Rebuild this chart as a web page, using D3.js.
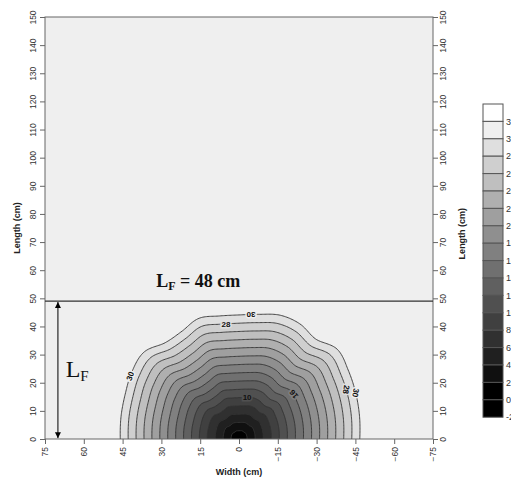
<!DOCTYPE html>
<html>
<head>
<meta charset="utf-8">
<script src="https://cdn.jsdelivr.net/npm/d3@7"></script>
<style>
  body { margin: 0; background: #fff; }
  svg { display: block; font-family: "Liberation Sans", Arial, sans-serif; }
</style>
</head>
<body>
<div id="chart"></div>
<script>
// contour levels (cm) and tick labels
const levels = [-2, 0, 2, 4, 6, 8, 10, 12, 14, 16, 18, 20, 22, 24, 26, 28, 30, 32];
const widthTicks = [75, 60, 45, 30, 15, 0, -15, -30, -45, -60, -75];
const lengthTicks = [0, 10, 20, 30, 40, 50, 60, 70, 80, 90, 100, 110, 120, 130, 140, 150];

// outer (30) contour: angle from right side (deg) -> radius (cm)
const edgeAngle = [0, 10, 20, 30, 40, 50, 60, 70, 80, 90, 100, 110, 120, 130, 140, 150, 160, 170, 180];
const edgeRadius = [46.7, 47.3, 48.0, 48.8, 49.6, 46.3, 47.2, 46.8, 45.0, 44.1, 44.4, 45.6, 44.2, 44.6, 48.0, 47.8, 46.8, 46.3, 45.9];

// contour labels: level, angle on the field, text rotation
const labelValue = [30, 28, 30, 10, 16, 28, 30];
const labelAngle = [84, 97, 152, 78, 37, 23, 20];
const labelRotate = [180, 0, -70, 0, -128, 100, 100];

const frontLength = 49; // LF line

const W = 511, H = 479;
const svg = d3.select("#chart").append("svg")
  .attr("width", W).attr("height", H);

const x = d3.scaleLinear().domain([75, -75]).range([45, 433]);
const y = d3.scaleLinear().domain([0, 150]).range([439, 17]);

// grey scale for the bands (lower value of band -> colour)
function bandColor(v) {
  const k = (v + 2) / 2;
  const g = k <= 1 ? 0 : Math.round((k - 1) / 16 * 255);
  return d3.rgb(g, g, g).formatHex();
}

// smooth radius between the read angles (catmull-rom)
function edge(a) {
  const n = edgeAngle.length;
  const t = Math.max(0, Math.min(n - 1, a / 10));
  const i = Math.min(n - 2, Math.floor(t)), f = t - i;
  const p0 = edgeRadius[Math.max(0, i - 1)], p1 = edgeRadius[i],
        p2 = edgeRadius[i + 1], p3 = edgeRadius[Math.min(n - 1, i + 2)];
  return 0.5 * (2 * p1 + (-p0 + p2) * f + (2 * p0 - 5 * p1 + 4 * p2 - p3) * f * f +
    (-p0 + 3 * p1 - 3 * p2 + p3) * f * f * f);
}

// plot background
svg.append("rect")
  .attr("x", x(75)).attr("y", y(150))
  .attr("width", x(-75) - x(75)).attr("height", y(0) - y(150))
  .attr("fill", bandColor(30));

// field grid
const step = 0.5, wStart = 80, lStart = -4;
const nx = 321, ny = 121;
const values = new Array(nx * ny);
for (let j = 0; j < ny; j++) {
  for (let i = 0; i < nx; i++) {
    const w = wStart - i * step, l = lStart + j * step;
    const r = Math.hypot(w, l);
    const a = Math.atan2(Math.abs(l), -w) * 180 / Math.PI;
    values[i + j * nx] = Math.min(31, 30 * r / edge(a));
  }
}
const contours = d3.contours().size([nx, ny]).thresholds(levels)(values);
const proj = d3.geoTransform({
  point(px, py) {
    this.stream.point(x(wStart - (px - 0.5) * step), y(lStart + (py - 0.5) * step));
  }
});
const path = d3.geoPath(proj);

svg.append("clipPath").attr("id", "clip")
  .append("rect")
  .attr("x", x(75)).attr("y", y(frontLength))
  .attr("width", x(-75) - x(75)).attr("height", y(0) - y(frontLength));

const g = svg.append("g").attr("clip-path", "url(#clip)");
g.selectAll("path.band")
  .data(contours.filter(c => c.value <= 30))
  .join("path")
  .attr("class", "band")
  .attr("d", path)
  .attr("fill", d => bandColor(d.value));
g.selectAll("path.line")
  .data(contours.filter(c => c.value >= 2 && c.value <= 30))
  .join("path")
  .attr("class", "line")
  .attr("d", path)
  .attr("fill", "none")
  .attr("stroke", "#333")
  .attr("stroke-width", 0.9);

// contour labels
labelValue.forEach((v, i) => {
  const a = labelAngle[i] * Math.PI / 180;
  const r = edge(labelAngle[i]) * v / 30;
  const px = x(-r * Math.cos(a)), py = y(r * Math.sin(a));
  svg.append("text")
    .attr("transform", `translate(${px},${py}) rotate(${labelRotate[i]})`)
    .attr("text-anchor", "middle").attr("dy", "0.35em")
    .attr("font-size", 8).attr("font-weight", "bold")
    .attr("fill", "#111")
    .attr("stroke", bandColor(v)).attr("stroke-width", 3)
    .attr("paint-order", "stroke")
    .text(v);
});

// axes
function styleAxis(sel) {
  sel.select(".domain").remove();
  sel.selectAll(".tick line").attr("stroke", "#666");
  sel.selectAll(".tick text").attr("fill", "#333").attr("font-size", 8.5);
}
svg.append("g")
  .attr("transform", `translate(${x(75)},0)`)
  .call(d3.axisLeft(y).tickValues(lengthTicks).tickSize(5).tickSizeOuter(0))
  .call(styleAxis)
  .call(s => s.selectAll(".tick text")
    .attr("x", null).attr("dy", null)
    .attr("text-anchor", "middle")
    .attr("transform", "translate(-9,0) rotate(-90)"));
svg.append("g")
  .attr("transform", `translate(${x(-75)},0)`)
  .call(d3.axisRight(y).tickValues(lengthTicks).tickSize(5).tickSizeOuter(0))
  .call(styleAxis)
  .call(s => s.selectAll(".tick text")
    .attr("x", null).attr("dy", null)
    .attr("text-anchor", "middle")
    .attr("transform", "translate(13,0) rotate(-90)"));
svg.append("g")
  .attr("transform", `translate(0,${y(0)})`)
  .call(d3.axisBottom(x).tickValues(widthTicks).tickSize(5).tickSizeOuter(0))
  .call(styleAxis)
  .call(s => s.selectAll(".tick text")
    .attr("y", null).attr("dy", "0.35em")
    .attr("text-anchor", "end")
    .attr("transform", "translate(0,8) rotate(-90)"));

// frame
svg.append("rect")
  .attr("x", x(75)).attr("y", y(150))
  .attr("width", x(-75) - x(75)).attr("height", y(0) - y(150))
  .attr("fill", "none").attr("stroke", "#666");

// axis titles
svg.append("text")
  .attr("x", x(0)).attr("y", 475)
  .attr("text-anchor", "middle").attr("font-size", 9).attr("font-weight", "bold")
  .attr("fill", "#222").text("Width (cm)");
svg.append("text")
  .attr("transform", `translate(20,${y(75)}) rotate(-90)`)
  .attr("text-anchor", "middle").attr("font-size", 9).attr("font-weight", "bold")
  .attr("fill", "#222").text("Length (cm)");
svg.append("text")
  .attr("transform", `translate(465,${y(73)}) rotate(-90)`)
  .attr("text-anchor", "middle").attr("font-size", 9).attr("font-weight", "bold")
  .attr("fill", "#222").text("Length (cm)");

// LF line and arrow
svg.append("line")
  .attr("x1", x(75)).attr("x2", x(-75))
  .attr("y1", y(frontLength)).attr("y2", y(frontLength))
  .attr("stroke", "#333").attr("stroke-width", 1.4);

svg.append("defs").append("marker")
  .attr("id", "arr").attr("viewBox", "0 0 10 10")
  .attr("refX", 10).attr("refY", 5)
  .attr("markerWidth", 6).attr("markerHeight", 7)
  .attr("markerUnits", "userSpaceOnUse")
  .attr("orient", "auto-start-reverse")
  .append("path").attr("d", "M0,0L10,5L0,10Z").attr("fill", "#000");
svg.append("line")
  .attr("x1", x(70)).attr("x2", x(70))
  .attr("y1", y(0.3)).attr("y2", y(frontLength - 0.3))
  .attr("stroke", "#000").attr("stroke-width", 1)
  .attr("marker-start", "url(#arr)").attr("marker-end", "url(#arr)");

const lf = svg.append("text")
  .attr("x", x(67)).attr("y", y(22))
  .attr("font-family", "Liberation Serif, Times New Roman, serif")
  .attr("font-size", 24).attr("fill", "#111");
lf.append("tspan").text("L");
lf.append("tspan").attr("font-size", 15).attr("dy", 4).text("F");

const lf2 = svg.append("text")
  .attr("x", x(32)).attr("y", y(54))
  .attr("font-family", "Liberation Serif, Times New Roman, serif")
  .attr("font-size", 18).attr("font-weight", "bold").attr("fill", "#111");
lf2.append("tspan").text("L");
lf2.append("tspan").attr("font-size", 12).attr("dy", 3).text("F");
lf2.append("tspan").attr("dy", -3).text(" = 48 cm");

// legend
const legTop = 104, boxH = 17.4, legX = 483, legW = 20;
const legend = svg.append("g");
const legLevels = levels.slice().reverse();
legend.selectAll("rect")
  .data(legLevels)
  .join("rect")
  .attr("x", legX).attr("y", (d, i) => legTop + i * boxH)
  .attr("width", legW).attr("height", boxH)
  .attr("fill", d => bandColor(d))
  .attr("stroke", "#555").attr("stroke-width", 1);
legend.selectAll("text")
  .data(legLevels)
  .join("text")
  .attr("x", legX + legW + 3).attr("y", (d, i) => legTop + (i + 1) * boxH)
  .attr("dy", "0.35em").attr("font-size", 9).attr("fill", "#333")
  .text(d => d);
</script>
</body>
</html>
